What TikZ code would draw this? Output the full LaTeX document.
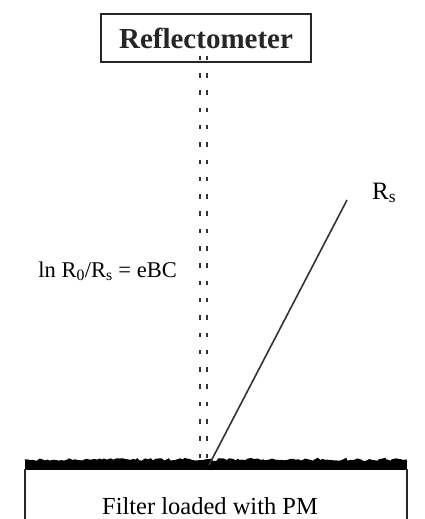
\documentclass[tikz,border=0pt]{standalone}
\usepackage{fontspec}
\setmainfont{Liberation Serif}
\usetikzlibrary{decorations.pathmorphing}

\begin{document}
\begin{tikzpicture}[x=1pt, y=-1pt, every node/.style={inner sep=0pt},
	dotcol/.style={line width=2.4pt, black!80, dash pattern=on 4.5pt off 12.8pt},
	rim/.style={line width=1.5pt, black!85}]
	\useasboundingbox (0,0) rectangle (425,519);
	% reflectometer on top
	\node[draw, rim, minimum width=210pt, minimum height=48pt, font=\bfseries\fontsize{29}{33}\selectfont] (refl) at (206,38) {Reflectometer};
	% filter with its loaded top layer
	\node[anchor=base, font=\fontsize{24.5}{28}\selectfont] (filt) at (210,514) {Filter loaded with PM};
	\coordinate (ftl) at (25,469); \coordinate (ftr) at (407,469);
	\draw[rim] (25,525) -- (ftl); \draw[rim] (407,525) -- (ftr);
	\fill ([yshift=-1pt]ftl) rectangle ([yshift=8pt]ftr);
	\draw[line width=3pt, decorate, decoration={random steps, segment length=2.5pt, amplitude=1.5pt}] ([yshift=8pt]ftl) -- ([yshift=8pt]ftr);
	% incident beam (dotted, two columns)
	\coordinate (hit) at (209,465);
	\draw[dotcol] ([xshift=-6pt, yshift=7pt]refl.south) -- ([xshift=-6pt]refl.south |- hit);
	\draw[dotcol] ([xshift=1pt, yshift=7pt]refl.south) -- ([xshift=1pt]refl.south |- hit);
	% reflected beam
	\coordinate (rtop) at (347,200);
	\draw[line width=1.6pt, black!80] (hit) -- (rtop);
	\node[anchor=west, font=\fontsize{25}{29}\selectfont] (rs) at (372,193) {R\textsubscript{s}};
	\node[anchor=east, font=\fontsize{22.5}{27}\selectfont] (law) at (177,271) {ln R\textsubscript{0}/R\textsubscript{s} = eBC};
\end{tikzpicture}
\end{document}
